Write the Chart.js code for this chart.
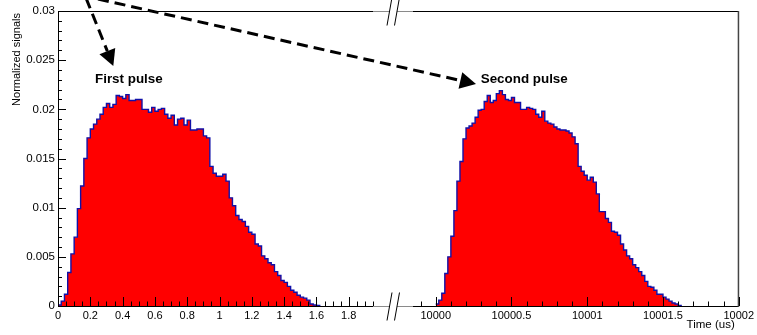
<!DOCTYPE html>
<html>
<head>
<meta charset="utf-8">
<script src="https://cdn.jsdelivr.net/npm/chart.js@4.4.1/dist/chart.umd.min.js"></script>
<style>
  html, body { margin: 0; padding: 0; background: #fff; }
  #wrap { position: relative; width: 757px; height: 335px; }
  #wrap canvas { position: absolute; left: 0; top: 0; }
</style>
</head>
<body>
<div id="wrap">
  <canvas id="firstChart" width="757" height="335"></canvas>
  <canvas id="secondChart" width="757" height="335"></canvas>
</div>
<script>
// histogram binning (us)
const binWidth = 0.02;
const firstStart = 0;
const secondStart = 10000;

// normalized signal per bin, first pulse
const firstPulse = [
  0.0001, 0.0005, 0.0012, 0.0034, 0.0053, 0.0070, 0.0099, 0.0122, 0.0150, 0.0171,
  0.0180, 0.0185, 0.0190, 0.0195, 0.0202, 0.0206, 0.0202, 0.0205, 0.0214, 0.0213,
  0.0211, 0.0215, 0.0209, 0.0209, 0.0210, 0.0210, 0.0200, 0.0200, 0.0197, 0.0202,
  0.0198, 0.0200, 0.0201, 0.0195, 0.0191, 0.0194, 0.0184, 0.0190, 0.0191, 0.0184,
  0.0189, 0.0179, 0.0179, 0.0180, 0.0180, 0.0173, 0.0171, 0.0142, 0.0135, 0.0132,
  0.0132, 0.0134, 0.0127, 0.0110, 0.0102, 0.0092, 0.0088, 0.0086, 0.0081, 0.0075,
  0.0073, 0.0063, 0.0061, 0.0051, 0.0048, 0.0044, 0.0042, 0.0035, 0.0031, 0.0026,
  0.0024, 0.0020, 0.0016, 0.0014, 0.0011, 0.0009, 0.0008, 0.0006, 0.0002, 0.0001,
  0.00005
];

// normalized signal per bin, second pulse
const secondPulse = [
  0.0002, 0.0006, 0.0013, 0.0033, 0.0050, 0.0071, 0.0097, 0.0127, 0.0147, 0.0170,
  0.0181, 0.0183, 0.0186, 0.0192, 0.0199, 0.0200, 0.0208, 0.0214, 0.0207, 0.0209,
  0.0216, 0.0219, 0.0215, 0.0210, 0.0209, 0.0212, 0.0207, 0.0207, 0.0200, 0.0200,
  0.0202, 0.0201, 0.0200, 0.0195, 0.0192, 0.0198, 0.0188, 0.0186, 0.0185, 0.0182,
  0.0180, 0.0179, 0.0179, 0.0178, 0.0176, 0.0172, 0.0165, 0.0142, 0.0137, 0.0133,
  0.0128, 0.0131, 0.0126, 0.0114, 0.0096, 0.0096, 0.0089, 0.0085, 0.0076, 0.0075,
  0.0072, 0.0063, 0.0057, 0.0051, 0.0048, 0.0042, 0.0039, 0.0035, 0.0031, 0.0025,
  0.0020, 0.0019, 0.0016, 0.0012, 0.0012, 0.0009, 0.0007, 0.0005, 0.0003, 0.0002,
  0.00005
];

const leftTicks = [0, 0.2, 0.4, 0.6, 0.8, 1, 1.2, 1.4, 1.6, 1.8];
const rightTicks = [10000, 10000.5, 10001, 10001.5, 10002];
const yTicks = [0, 0.005, 0.01, 0.015, 0.02, 0.025, 0.03];

const leftRange = [0, 1.95];
const rightRange = [9999.85, 10002];
const yRange = [0, 0.03];

const RED = '#ff0000';
const BLUE = '#1010a8';
const FONT = '"Liberation Sans", Arial, Helvetica, sans-serif';

// bin contents -> left edge points for a stepped line, closed at the last edge
function toSteps(values, start) {
  const pts = values.map((v, i) => ({ x: start + i * binWidth, y: v }));
  pts.push({ x: start + values.length * binWidth, y: 0 });
  return pts;
}

function fmt(v) {
  return String(+v.toFixed(4));
}

function line(ctx, x0, y0, x1, y1) {
  ctx.beginPath();
  ctx.moveTo(x0, y0);
  ctx.lineTo(x1, y1);
  ctx.stroke();
}

// dashed arrow with a filled head
function arrow(ctx, x0, y0, x1, y1) {
  const dx = x1 - x0, dy = y1 - y0;
  const len = Math.hypot(dx, dy);
  const ux = dx / len, uy = dy / len;
  const headLen = 16, headHalf = 8.5;
  const bx = x1 - ux * headLen, by = y1 - uy * headLen;
  ctx.save();
  ctx.strokeStyle = '#000';
  ctx.lineWidth = 3;
  ctx.setLineDash([11, 6]);
  line(ctx, x0, y0, bx, by);
  ctx.setLineDash([]);
  ctx.fillStyle = '#000';
  ctx.beginPath();
  ctx.moveTo(x1, y1);
  ctx.lineTo(bx - uy * headHalf, by + ux * headHalf);
  ctx.lineTo(bx + uy * headHalf, by - ux * headHalf);
  ctx.closePath();
  ctx.fill();
  ctx.restore();
}

// the "//" marks where the time axis is cut
function axisBreak(ctx, cx, y) {
  ctx.save();
  ctx.fillStyle = '#fff';
  ctx.beginPath();
  ctx.moveTo(cx - 6.5, y + 14);
  ctx.lineTo(cx - 1.5, y - 14);
  ctx.lineTo(cx + 6, y - 14);
  ctx.lineTo(cx + 1, y + 14);
  ctx.closePath();
  ctx.fill();
  ctx.strokeStyle = '#000';
  ctx.lineWidth = 1;
  line(ctx, cx - 6.5, y + 14, cx - 1.5, y - 14);
  line(ctx, cx + 1, y + 14, cx + 6, y - 14);
  ctx.restore();
}

// inward ticks along the bottom edge, long every 'major' steps
function bottomTicks(ctx, scale, bottom, kFrom, kTo, div, major) {
  for (let k = kFrom; k <= kTo; k++) {
    const px = Math.round(scale.getPixelForValue(k / div)) + 0.5;
    const len = k % major === 0 ? 9 : 4.5;
    line(ctx, px, bottom, px, bottom - len);
  }
}

const firstFrame = {
  id: 'firstFrame',
  afterDraw(chart) {
    const ctx = chart.ctx;
    const a = chart.chartArea;
    const x = chart.scales.x, y = chart.scales.y;
    const gapEnd = 413;
    ctx.save();
    ctx.lineWidth = 1;
    ctx.strokeStyle = '#000';
    // frame of the left panel
    line(ctx, a.left + 0.5, a.top, a.left + 0.5, a.bottom + 0.5);
    line(ctx, a.left, a.bottom + 0.5, a.right, a.bottom + 0.5);
    line(ctx, a.left, a.top + 0.5, a.right, a.top + 0.5);
    // y ticks, 0.001 minor / 0.005 major
    for (let k = 0; k <= 30; k++) {
      const py = Math.round(y.getPixelForValue(k / 1000)) + 0.5;
      line(ctx, a.left, py, a.left + (k % 5 === 0 ? 8 : 4), py);
    }
    bottomTicks(ctx, x, a.bottom, 0, 39, 20, 4);
    // grey joins across the cut
    ctx.strokeStyle = '#8a8a8a';
    line(ctx, a.right, a.bottom + 0.5, gapEnd, a.bottom + 0.5);
    line(ctx, a.right, a.top + 0.5, gapEnd, a.top + 0.5);
    axisBreak(ctx, 393.5, a.bottom + 0.5);
    axisBreak(ctx, 393.5, a.top + 0.5);

    // axis title
    ctx.fillStyle = '#000';
    ctx.font = '11px ' + FONT;
    ctx.save();
    ctx.translate(17, a.top + 2);
    ctx.rotate(-Math.PI / 2);
    ctx.textAlign = 'right';
    ctx.textBaseline = 'middle';
    ctx.fillText('Normalized signals', 0, 0);
    ctx.restore();

    ctx.font = 'bold 13.4px ' + FONT;
    ctx.textAlign = 'left';
    ctx.textBaseline = 'middle';
    ctx.fillText('First pulse', 95, 79);
    arrow(ctx, 86, -2, 113.3, 66);
    ctx.restore();
  }
};

const secondFrame = {
  id: 'secondFrame',
  afterDraw(chart) {
    const ctx = chart.ctx;
    const a = chart.chartArea;
    const x = chart.scales.x;
    ctx.save();
    ctx.lineWidth = 1;
    ctx.strokeStyle = '#000';
    line(ctx, a.left, a.bottom + 0.5, a.right, a.bottom + 0.5);
    line(ctx, a.left, a.top + 0.5, a.right, a.top + 0.5);
    ctx.strokeStyle = '#444';
    ctx.lineWidth = 1.5;
    line(ctx, a.right - 0.25, a.top, a.right - 0.25, a.bottom + 1);
    ctx.lineWidth = 1;
    ctx.strokeStyle = '#000';
    bottomTicks(ctx, x, a.bottom, 99999, 100020, 10, 5);

    ctx.fillStyle = '#000';
    ctx.font = '11.5px ' + FONT;
    ctx.textAlign = 'right';
    ctx.textBaseline = 'middle';
    ctx.fillText('Time (us)', a.right - 4, 325);

    ctx.font = 'bold 13.4px ' + FONT;
    ctx.textAlign = 'left';
    ctx.fillText('Second pulse', 480.7, 79);
    arrow(ctx, 98, -1, 476, 84);
    ctx.restore();
  }
};

function xAxis(range, ticks, size) {
  return {
    type: 'linear',
    min: range[0],
    max: range[1],
    afterFit: s => { s.height = 29; },
    afterBuildTicks: s => { s.ticks = ticks.map(v => ({ value: v })); },
    grid: { display: false, drawTicks: false },
    border: { display: false },
    ticks: {
      autoSkip: false,
      maxRotation: 0,
      padding: 3,
      color: '#000',
      font: { family: FONT, size: size },
      callback: v => fmt(v)
    }
  };
}

function histogram(values, start) {
  return {
    data: toSteps(values, start),
    stepped: true,
    fill: 'origin',
    backgroundColor: RED,
    borderColor: BLUE,
    borderWidth: 1.4,
    pointRadius: 0
  };
}

const common = {
  responsive: false,
  animation: false,
  events: [],
  plugins: { legend: { display: false }, tooltip: { enabled: false } }
};

new Chart(document.getElementById('firstChart'), {
  type: 'line',
  data: { datasets: [histogram(firstPulse, firstStart)] },
  options: Object.assign({}, common, {
    layout: { padding: { left: 0, top: 11, right: 384, bottom: 0 } },
    scales: {
      x: xAxis(leftRange, leftTicks, 11),
      y: {
        min: yRange[0],
        max: yRange[1],
        afterFit: s => { s.width = 58; },
        afterBuildTicks: s => { s.ticks = yTicks.map(v => ({ value: v })); },
        grid: { display: false, drawTicks: false },
        border: { display: false },
        ticks: {
          padding: 3,
          color: '#000',
          font: { family: FONT, size: 11.5 },
          callback: v => fmt(v)
        }
      }
    }
  }),
  plugins: [firstFrame]
});

new Chart(document.getElementById('secondChart'), {
  type: 'line',
  data: { datasets: [histogram(secondPulse, secondStart)] },
  options: Object.assign({}, common, {
    layout: { padding: { left: 413, top: 11, right: 16, bottom: 0 } },
    scales: {
      x: xAxis(rightRange, rightTicks, 11),
      y: { display: false, min: yRange[0], max: yRange[1] }
    }
  }),
  plugins: [secondFrame]
});
</script>
</body>
</html>
